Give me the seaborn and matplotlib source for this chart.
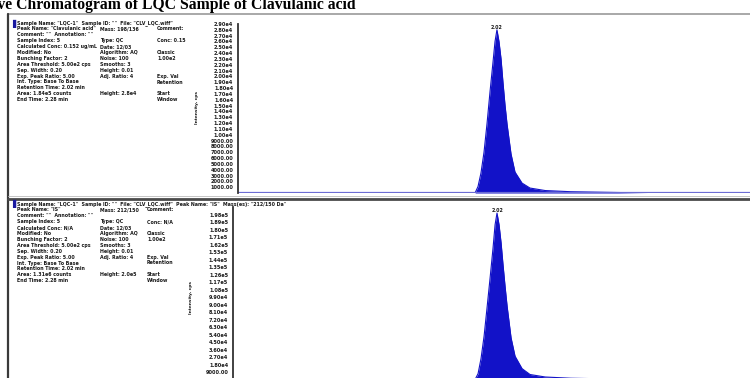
import matplotlib
matplotlib.use("Agg")
import matplotlib.pyplot as plt
import seaborn as sns
import pandas as pd

# Chromatogram traces (time in min, intensity in cps)
time_1 = [0.00, 0.50, 1.00, 1.50, 1.80, 1.852, 1.875, 1.898, 1.922, 1.945, 1.969, 1.992,
          2.008, 2.023, 2.039, 2.055, 2.070, 2.086, 2.102, 2.133, 2.164, 2.219, 2.281,
          2.40, 2.60, 2.90, 3.20, 3.60, 4.00]
counts_1 = [0, 0, 0, 0, 0, 0, 1100, 3400, 7000, 11800, 17400, 22400,
            26000, 28000, 26000, 23000, 19000, 15100, 11800, 6700, 3600, 1700, 850,
            420, 220, 110, 0, 0, 0]

time_2 = [0.00, 0.50, 1.00, 1.50, 1.80, 1.852, 1.875, 1.898, 1.922, 1.945, 1.969, 1.992,
          2.008, 2.023, 2.039, 2.055, 2.070, 2.086, 2.102, 2.133, 2.164, 2.219, 2.281,
          2.40, 2.60, 2.90, 3.20, 3.60, 4.00]
counts_2 = [0, 0, 0, 0, 0, 0, 7000, 25000, 52000, 86000, 122000, 158000,
            186000, 200000, 186000, 164000, 138000, 112000, 88000, 50000, 28000, 13000, 6000,
            3000, 1500, 700, 0, 0, 0]

tick_step_1 = 1000
tick_max_1 = 29000
tick_step_2 = 9000
tick_max_2 = 198000

rt_label = "2.02"
title = "Representative Chromatogram of LQC Sample of Clavulanic acid"

info_lines_1 = [
    ("Sample Name: \"LQC-1\"  Sample ID: \"\"  File: \"CLV_LQC.wiff\"", "", ""),
    ("Peak Name: \"Clavulanic acid\"", "Mass: 198/136", "Comment:"),
    ("Comment: \"\"  Annotation: \"\"", "", ""),
    ("Sample Index: 5", "Type: QC", "Conc: 0.15"),
    ("Calculated Conc: 0.152 ug/mL", "Date: 12/03", ""),
    ("Modified: No", "Algorithm: AQ", "Classic"),
    ("Bunching Factor: 2", "Noise: 100", "1.00e2"),
    ("Area Threshold: 5.00e2 cps", "Smooths: 3", ""),
    ("Sep. Width: 0.20", "Height: 0.01", ""),
    ("Exp. Peak Ratio: 5.00", "Adj. Ratio: 4", "Exp. Val"),
    ("Int. Type: Base To Base", "", "Retention"),
    ("Retention Time: 2.02 min", "", ""),
    ("Area: 1.84e5 counts", "Height: 2.8e4", "Start"),
    ("End Time: 2.28 min", "", "Window"),
]

info_lines_2 = [
    ("Sample Name: \"LQC-1\"  Sample ID: \"\"  File: \"CLV_LQC.wiff\"  Peak Name: \"IS\"  Mass(es): \"212/150 Da\"", "", ""),
    ("Peak Name: \"IS\"", "Mass: 212/150", "Comment:"),
    ("Comment: \"\"  Annotation: \"\"", "", ""),
    ("Sample Index: 5", "Type: QC", "Conc: N/A"),
    ("Calculated Conc: N/A", "Date: 12/03", ""),
    ("Modified: No", "Algorithm: AQ", "Classic"),
    ("Bunching Factor: 2", "Noise: 100", "1.00e2"),
    ("Area Threshold: 5.00e2 cps", "Smooths: 3", ""),
    ("Sep. Width: 0.20", "Height: 0.01", ""),
    ("Exp. Peak Ratio: 5.00", "Adj. Ratio: 4", "Exp. Val"),
    ("Int. Type: Base To Base", "", "Retention"),
    ("Retention Time: 2.02 min", "", ""),
    ("Area: 1.31e6 counts", "Height: 2.0e5", "Start"),
    ("End Time: 2.28 min", "", "Window"),
]

W, H = 750, 378


def box(x0, y0, x1, y1):
    # pixel box (top-left origin) -> figure fraction rect
    return [x0 / W, 1 - y1 / H, (x1 - x0) / W, (y1 - y0) / H]


def fx(x):
    return x / W


def fy(y):
    return 1 - y / H


def tick_text(v):
    if v < 10000:
        return f"{v:.2f}"
    exp = len(str(int(v))) - 1
    return f"{v / 10 ** exp:.2f}e{exp}"


sns.set_style("white")
plt.rcParams['font.family'] = ['DejaVu Sans']

fig = plt.figure(figsize=(7.5, 3.78), dpi=100)
fig.patch.set_facecolor("white")

peak_blue = "#1212c8"
base_blue = "#6c6cd4"
ink = "#1a1a1a"


def draw_panel(ax, t, c, ymax, step, tmax, xlim):
    df = pd.DataFrame({"time": t, "counts": c})
    ax.fill_between(df["time"], 0, df["counts"], color=peak_blue, lw=0)
    sns.lineplot(data=df, x="time", y="counts", ax=ax, color=peak_blue, lw=0.8)
    ax.axhline(0, color=base_blue, lw=1.6)
    ax.set_xlim(*xlim)
    ax.set_ylim(0, ymax)
    ticks = list(range(step, tmax + 1, step))
    ax.set_yticks(ticks)
    ax.set_yticklabels([tick_text(v) for v in ticks], fontsize=3.6,
                       fontweight="bold", color=ink)
    ax.tick_params(axis="y", length=2, width=0.5, pad=1.5, color="#333333")
    ax.set_xticks([0.5, 1.0, 1.5, 2.0, 2.5, 3.0, 3.5])
    ax.set_xticklabels([])
    ax.tick_params(axis="x", length=0)
    ax.set_xlabel("")
    ax.set_ylabel("")
    for s in ["top", "right", "bottom"]:
        ax.spines[s].set_visible(False)
    ax.spines["left"].set_color("#333333")
    ax.spines["left"].set_linewidth(1.3)
    ax.patch.set_alpha(0)
    top = max(c)
    ax.text(t[c.index(top)], top, rt_label, fontsize=3.4, fontweight="bold",
            ha="center", va="bottom", color=ink)


ax1 = fig.add_axes(box(238, 24, 750, 193))
draw_panel(ax1, time_1, counts_1, 29000, tick_step_1, tick_max_1, (0, 4.0))

ax2 = fig.add_axes(box(233, 207, 750, 379.5))
draw_panel(ax2, time_2, counts_2, 207300, tick_step_2, tick_max_2, (-0.04, 4.0))

# window frame lines
fig.add_artist(plt.Line2D([fx(8), fx(750)], [fy(14), fy(14)], color="#9a9a9a", lw=1.2))
fig.add_artist(plt.Line2D([fx(8), fx(8)], [fy(14), fy(378)], color="#3a3a3a", lw=1.6))
fig.add_artist(plt.Line2D([fx(8), fx(750)], [fy(198.5), fy(198.5)], color="#4a4a4a", lw=2.0))
fig.add_artist(plt.Line2D([fx(8), fx(750)], [fy(196), fy(196)], color="#bbbbbb", lw=0.6))


def draw_info(lines, y0, xcols, rot_label_xy):
    fig.text(fx(12), fy(y0 + 1), "\u258c", fontsize=6, color="#1a1aa0", va="center")
    for i, (a, b, c) in enumerate(lines):
        y = fy(y0 + 1 + i * 5.9)
        fig.text(fx(xcols[0]), y, a, fontsize=3.4, fontweight="bold", color=ink, va="center")
        if b:
            fig.text(fx(xcols[1]), y, b, fontsize=3.4, fontweight="bold", color=ink, va="center")
        if c:
            fig.text(fx(xcols[2]), y, c, fontsize=3.4, fontweight="bold", color=ink, va="center")
    fig.text(fx(rot_label_xy[0]), fy(rot_label_xy[1]), "Intensity, cps", fontsize=3.2,
             fontweight="bold", rotation=90, ha="center", va="center", color=ink)


draw_info(info_lines_1, 22, (17, 100, 157), (197, 108))
draw_info(info_lines_2, 203, (17, 100, 147), (191, 298))

fig.text(fx(356), fy(5), title, fontsize=11.3, fontweight="bold",
         family="Liberation Serif", ha="right", va="center", color="black")

fig.savefig("out.png", dpi=100)
